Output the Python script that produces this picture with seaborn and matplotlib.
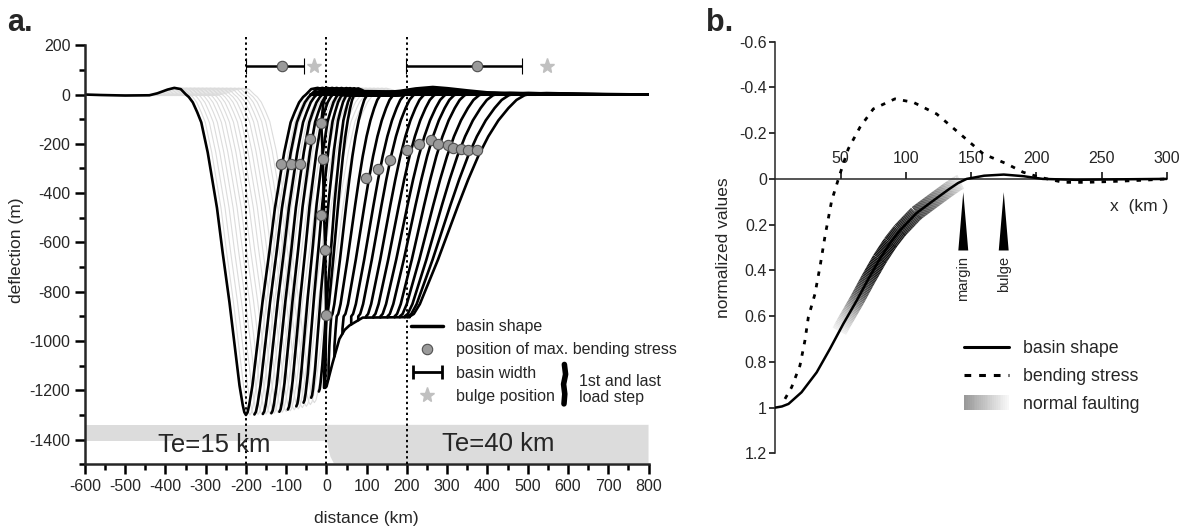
import numpy as np
import pandas as pd
import matplotlib
matplotlib.use("Agg")
import matplotlib.pyplot as plt
import seaborn as sns
from matplotlib.lines import Line2D
from matplotlib.patches import Rectangle, Polygon
from matplotlib.collections import LineCollection
from matplotlib.legend_handler import HandlerBase, HandlerErrorbar
from matplotlib.container import ErrorbarContainer
from matplotlib.ticker import MultipleLocator, FixedLocator, FixedFormatter

# ---------------- panel a data ----------------
# Te=15 km flank shape (distance from basin minimum, deflection in m), read from first load step
T15_DX = [0, 4, 8, 16, 26, 41, 58, 72, 83, 95, 111, 121, 132, 142, 149, 162, 178, 195, 220, 240, 300, 360, 400]
T15_Y = [-1300, -1289, -1260, -1181, -1046, -843, -640, -460, -352, -235, -113, -72, -32, -10, 0, 22, 27, 20, 5, -3, -4, -2, 0]

# black Te=15 load steps: basin minimum position, depth, flank width factor
TE15_MIN = [-200, -179, -158, -137, -117, -96, -75, -57, -38, -19]
TE15_DEPTH = [1300, 1298, 1296, 1293, 1287, 1278, 1265, 1250, 1230, 1205]
TE15_WIDTH = [1.0, 0.95, 0.9, 0.85, 0.8, 0.75, 0.7, 0.65, 0.6, 0.55]

# steep flank at the plate boundary
STEEP_X = [-3, -2, -1, -2, -3, -6, -9, -12, -13, -8, 0, 30, 800]
STEEP_Y = [-1190, -1050, -895, -760, -630, -480, -262, -150, -115, -40, 8, 15, 0]

# light grey intermediate load steps
GRAY_MIN = [-190, -180, -170, -160, -150, -140, -130, -120, -110, -100, -90, -80, -70, -60, -50, -40, -30]
GRAY_DEPTH = [1300, 1299, 1298, 1297, 1296, 1295, 1293, 1291, 1289, 1286, 1283, 1279, 1275, 1270, 1265, 1258, 1250]

# Te=40 km flank shape (distance from deepest point, deflection in m)
T40_DX = [0, 4, 10, 18, 25, 35, 50, 70, 95, 120, 145, 170, 195, 220, 245, 270, 290, 310, 325, 365, 425, 505, 585]
T40_Y = [-1185, -1100, -1020, -950, -900, -890, -850, -770, -670, -560, -450, -345, -250, -170, -105, -55, -22, -3, 3, 6, 4, 1, 0]
TE40_A = [-6, 4, 16, 32, 50, 67, 86, 103, 120, 137, 154, 165, 175, 180, 182]
TE40_W = [0.24, 0.31, 0.38, 0.43, 0.46, 0.48, 0.50, 0.53, 0.56, 0.58, 0.61, 0.69, 0.77, 0.88, 1.0]

# lower envelope of the Te=40 basins
ENV_X = [-5, 0, 15, 32, 45, 57, 90, 206]
ENV_Y = [-1190, -1185, -1090, -992, -955, -937, -905, -903]

# forebulge ridge of the stacked curves
RIDGE_X = [-45, -30, 0, 40, 80, 130, 180, 220, 263, 300, 350, 400, 450, 490, 520]
RIDGE_TOP = [5, 18, 24, 22, 17, 15, 22, 32, 38, 33, 24, 16, 10, 6, 3]

# position of max. bending stress
DOT_X = [-112, -89, -66, -41, -13, -9, -13, -3, -1, 99, 127, 158, 200, 229, 260, 278, 301, 315, 334, 351, 373]
DOT_Y = [-280, -280, -280, -180, -115, -262, -490, -630, -895, -340, -302, -266, -224, -201, -185, -201, -204, -218, -221, -224, -224]

# basin width bars and bulge positions (first and last load step)
BAR_LEFT = [-200, 198]
BAR_RIGHT = [-55, 486]
BAR_DOT = [-110, 373]
BAR_Y = [115, 115]
STAR_X = [-30, 548]
STAR_Y = [115, 115]

VLINES = [-200, 0, 200]

# ---------------- panel b data ----------------
BASIN_X = [0, 5, 10, 20, 31.6, 41.8, 52, 62.3, 71, 80, 88, 95.5, 108, 121, 133, 140, 146.6, 160, 175, 190, 205, 230, 260, 300]
BASIN_Y = [1.0, 0.995, 0.984, 0.933, 0.846, 0.743, 0.634, 0.532, 0.44, 0.35, 0.28, 0.225, 0.15, 0.095, 0.045, 0.018, 0.0, -0.014, -0.019, -0.012, 0.0, 0.004, 0.002, 0.0]
STRESS_X = [7.3, 12.4, 18.8, 22.6, 25.2, 30.3, 32.4, 34.1, 38, 43.1, 49.5, 55.8, 64.8, 75, 91.6, 105.7, 123.6, 141.5, 159.4, 177.3, 190, 202.8, 220.7, 238.6, 264, 284.6, 300]
STRESS_Y = [0.962, 0.911, 0.816, 0.707, 0.605, 0.503, 0.437, 0.386, 0.25, 0.095, -0.022, -0.131, -0.226, -0.306, -0.35, -0.335, -0.284, -0.197, -0.109, -0.066, -0.029, -0.007, 0.015, 0.015, 0.01, 0.005, 0.0]
FAULT_X = [49, 57, 65, 74, 87, 100, 115, 128, 142]
FAULT_G = [0.95, 0.7, 0.35, 0.1, 0.05, 0.12, 0.3, 0.55, 0.9]
MARK_X = [144, 175]
MARK_LABEL = ["margin", "bulge"]

# ---------------- style ----------------
sns.set_theme(style="ticks")
plt.rcParams["font.family"] = ["Liberation Sans", "DejaVu Sans"]
plt.rcParams["axes.unicode_minus"] = False

fig = plt.figure(figsize=(11.93, 5.32), dpi=100)
axA = fig.add_axes([0.0712, 0.1273, 0.4724, 0.8062])
axB = fig.add_axes([0.650, 0.1479, 0.328, 0.7737])

BLACK_LW = 1.9
t15dx = np.array(T15_DX, float)
t15y = np.array(T15_Y, float)

# grey load steps
for m, d in zip(GRAY_MIN, GRAY_DEPTH):
    xs = np.concatenate([m - t15dx[::-1], m + t15dx[1:]])
    ys = np.concatenate([t15y[::-1], t15y[1:]]) * d / 1300.0
    axA.plot(xs, ys, color="#dcdcdc", lw=0.8, zorder=1)

# black Te=15 flanks
for i, (m, d, w) in enumerate(zip(TE15_MIN, TE15_DEPTH, TE15_WIDTH)):
    xr = m + t15dx * w
    yr = t15y * d / 1300.0
    if i == 0:
        xs = np.concatenate([m - t15dx[::-1], xr[1:], [800]])
        ys = np.concatenate([t15y[::-1], yr[1:], [0]])
    else:
        xs = np.concatenate([xr, [800]])
        ys = np.concatenate([yr, [0]])
    axA.plot(xs, ys, color="black", lw=BLACK_LW, zorder=2, solid_capstyle="round")

axA.plot(STEEP_X, STEEP_Y, color="black", lw=BLACK_LW, zorder=2)

# black Te=40 flanks clipped by lower envelope
t40dx = np.array(T40_DX, float)
t40y = np.array(T40_Y, float)
for a, w in zip(TE40_A, TE40_W):
    xs = a + t40dx * w
    env = np.interp(xs, ENV_X, ENV_Y)
    ok = np.nonzero(t40y >= env - 3)[0]
    k = ok[0]
    xs2 = np.concatenate([[xs[k]], xs[k:], [800]])
    ys2 = np.concatenate([[np.interp(xs[k], ENV_X, ENV_Y)], t40y[k:], [0]])
    axA.plot(xs2, ys2, color="black", lw=BLACK_LW, zorder=2, solid_capstyle="round")

axA.plot(ENV_X, ENV_Y, color="black", lw=BLACK_LW, zorder=2)
axA.fill_between(RIDGE_X, -4, RIDGE_TOP, color="black", lw=0, zorder=2)

for xv in VLINES:
    axA.axvline(xv, color="black", lw=1.4, ls=(0, (1.2, 1.6)), zorder=3)

dots = pd.DataFrame({"x": DOT_X, "y": DOT_Y})
sns.scatterplot(data=dots, x="x", y="y", ax=axA, color="#9a9a9a", edgecolor="#505050",
                linewidth=0.8, s=55, zorder=5, legend=False)

bl = np.array(BAR_LEFT, float); br = np.array(BAR_RIGHT, float); bd = np.array(BAR_DOT, float)
axA.errorbar(bd, BAR_Y, xerr=[bd - bl, br - bd], fmt="o", color="black", mfc="#9a9a9a",
             mec="#505050", mew=0.8, ms=7.5, elinewidth=1.8, capsize=5.5, capthick=1.8, zorder=5)
axA.plot(STAR_X, STAR_Y, ls="none", marker="*", color="#c0c0c0", ms=11, zorder=5)

# Te bands
axA.add_patch(Rectangle((-600, -1405), 600, 65, facecolor="#dcdcdc", edgecolor="none", zorder=0))
axA.add_patch(Polygon([(0, -1340), (800, -1340), (800, -1495), (18, -1495), (10, -1470),
                       (5, -1440), (1, -1405), (0, -1405)], closed=True,
                      facecolor="#dcdcdc", edgecolor="none", zorder=0))
axA.text(-280, -1420, "Te=15 km", fontsize=18.5, ha="center", va="center", zorder=6)
axA.text(427, -1416, "Te=40 km", fontsize=18.5, ha="center", va="center", zorder=6)

axA.set_xlim(-600, 800)
axA.set_ylim(-1500, 240)
axA.spines["right"].set_visible(False)
axA.spines["top"].set_visible(False)
axA.spines["left"].set_bounds(-1500, 200)
for s in ("left", "bottom"):
    axA.spines[s].set_linewidth(1.8)
axA.xaxis.set_major_locator(MultipleLocator(100))
axA.xaxis.set_minor_locator(MultipleLocator(50))
axA.set_yticks(np.arange(-1400, 201, 200))
axA.yaxis.set_minor_locator(FixedLocator(np.arange(-1500, 201, 100)))
axA.tick_params(which="major", length=7, width=1.8, labelsize=11.5, direction="out", color="black")
axA.tick_params(which="minor", length=4.5, width=1.8, direction="out", color="black")
axA.set_xlabel("distance (km)", fontsize=12.5, labelpad=12)
axA.set_ylabel("deflection (m)", fontsize=12.5, labelpad=4)

# legend a
h1 = Line2D([], [], color="black", lw=2.5)
h2 = Line2D([], [], marker="o", ls="none", mfc="#9a9a9a", mec="#505050", mew=0.8, ms=7.5)
h3 = axA.errorbar([np.nan], [np.nan], xerr=[[1], [1]], fmt="none", ecolor="black",
                  elinewidth=2, capsize=5, capthick=2)
h4 = Line2D([], [], marker="*", ls="none", color="#c0c0c0", ms=11)
legA = axA.legend([h1, h2, h3, h4], ["basin shape", "position of max. bending stress",
                                      "basin width", "bulge position"],
                  loc="upper left", bbox_to_anchor=(0.565, 0.357), frameon=False,
                  fontsize=11.5, handlelength=2.0, handletextpad=0.8, labelspacing=0.52,
                  borderpad=0, handler_map={ErrorbarContainer: HandlerErrorbar(xerr_size=0.9)})
GLYPH_X = [591, 594, 589, 592, 590]
GLYPH_Y = [-1095, -1135, -1175, -1215, -1255]
axA.plot(GLYPH_X, GLYPH_Y, color="black", lw=4, solid_capstyle="round", zorder=6)
axA.text(628, -1197, "1st and last\nload step", fontsize=11.5, ha="left", va="center", linespacing=1.05)

# ---------------- panel b ----------------
fx = np.linspace(FAULT_X[0], FAULT_X[-1], 160)
fy = np.interp(fx, BASIN_X, BASIN_Y)
pts = np.column_stack([fx, fy]).reshape(-1, 1, 2)
segs = np.concatenate([pts[:-1], pts[1:]], axis=1)
gvals = np.interp((fx[:-1] + fx[1:]) / 2, FAULT_X, FAULT_G)
lc = LineCollection(segs, colors=[(g, g, g) for g in gvals], linewidths=11, capstyle="butt", zorder=1)
axB.add_collection(lc)

bdf = pd.DataFrame({"x": BASIN_X, "y": BASIN_Y})
sdf = pd.DataFrame({"x": STRESS_X, "y": STRESS_Y})
sns.lineplot(data=bdf, x="x", y="y", ax=axB, color="black", lw=1.8, sort=False, estimator=None, zorder=3)
sns.lineplot(data=sdf, x="x", y="y", ax=axB, color="black", lw=2.0, sort=False, estimator=None,
             zorder=3, dashes=False)
axB.lines[-1].set_linestyle((0, (1.6, 2.6)))

for mx, lab in zip(MARK_X, MARK_LABEL):
    axB.fill([mx - 3.8, mx, mx + 3.8], [0.313, 0.058, 0.313], color="black", lw=0, zorder=4)
    axB.text(mx, 0.335, lab, rotation=90, ha="center", va="top", fontsize=10.5)

axB.text(301, 0.12, "x  (km )", fontsize=12.5, ha="right", va="center")

axB.set_xlim(0, 300)
axB.set_ylim(1.2, -0.6)
axB.spines["right"].set_visible(False)
axB.spines["bottom"].set_visible(False)
axB.spines["top"].set_position(("data", 0))
axB.spines["top"].set_linewidth(1.1)
axB.spines["left"].set_linewidth(1.1)
axB.xaxis.tick_top()
axB.set_xticks([50, 100, 150, 200, 250, 300])
axB.set_xticklabels(["50", "100", "150", "200", "250", "300"])
yt = [-0.6, -0.4, -0.2, 0, 0.2, 0.4, 0.6, 0.8, 1.0, 1.2]
axB.yaxis.set_major_locator(FixedLocator(yt))
axB.yaxis.set_major_formatter(FixedFormatter(["-0.6", "-0.4", "-0.2", "0", "0.2", "0.4", "0.6", "0.8", "1", "1.2"]))
axB.tick_params(axis="x", which="major", length=5, width=1.1, labelsize=11.5, direction="out", pad=4, color="black")
axB.tick_params(axis="y", which="major", length=4, width=1.1, labelsize=11.5, direction="out", pad=2, color="black")
axB.set_xlabel("")
axB.set_ylabel("normalized values", fontsize=12.5, labelpad=6)


class GradHandler(HandlerBase):
    def create_artists(self, legend, orig_handle, xdescent, ydescent, width, height, fontsize, trans):
        arts = []
        n = 24
        for k in range(n):
            g = 0.6 + 0.37 * k / (n - 1)
            arts.append(Rectangle((-xdescent + width * k / n, -ydescent - 0.1 * height), width / n * 1.08,
                                  height * 1.2, facecolor=(g, g, g), edgecolor="none", transform=trans))
        return arts


hb1 = Line2D([], [], color="black", lw=2.2)
hb2 = Line2D([], [], color="black", lw=2.2, ls=(0, (2.2, 2.6)))
hb3 = Rectangle((0, 0), 1, 1)
axB.legend([hb1, hb2, hb3], ["basin shape", "bending stress", "normal faulting"],
           loc="upper left", bbox_to_anchor=(0.46, 0.297), frameon=False, fontsize=12.8,
           handlelength=2.5, handletextpad=0.8, labelspacing=0.62, borderpad=0,
           handler_map={hb3: GradHandler()})

fig.text(0.006, 0.985, "a.", fontsize=22, fontweight="bold", va="top", ha="left")
fig.text(0.592, 0.985, "b.", fontsize=22, fontweight="bold", va="top", ha="left")

fig.savefig("out.png", dpi=100)
